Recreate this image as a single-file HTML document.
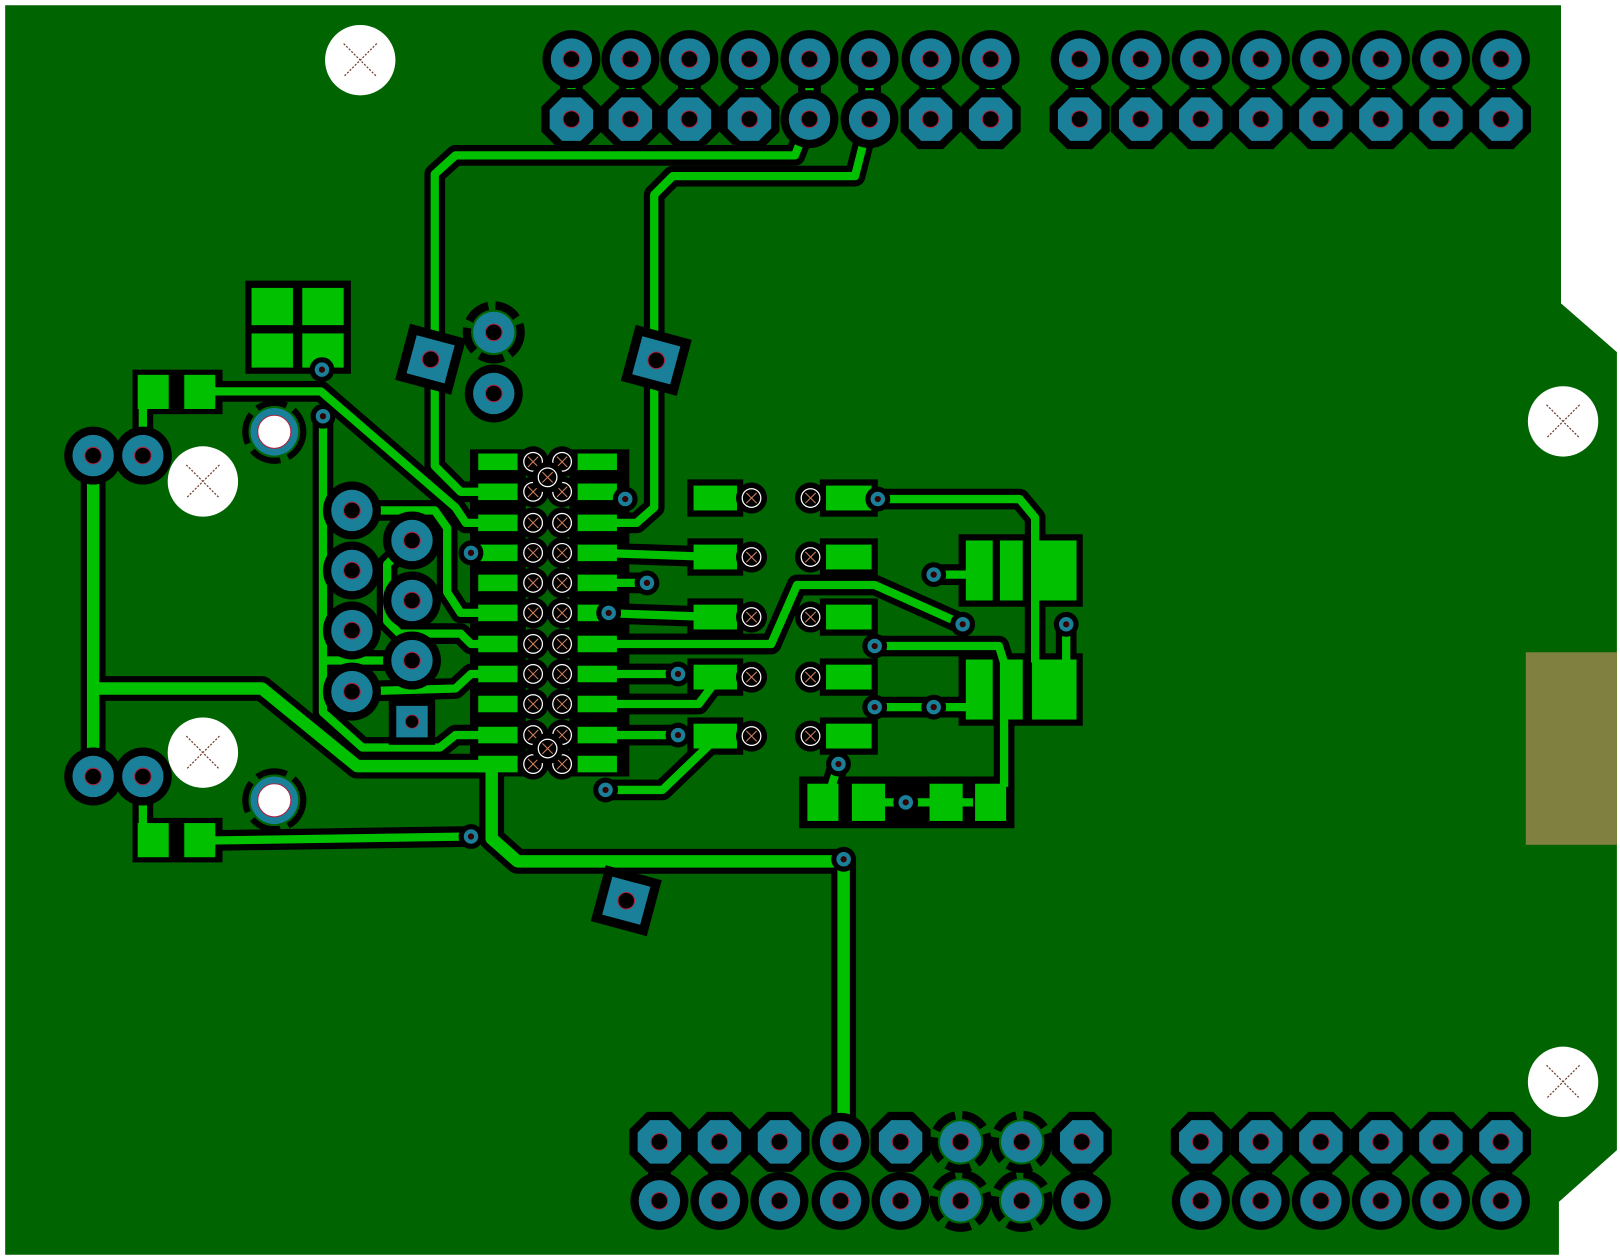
<!DOCTYPE html>
<html><head><meta charset="utf-8"><style>html,body{margin:0;padding:0;background:#fff}svg{display:block}</style></head><body>
<svg width="1620" height="1260" viewBox="0 0 1565 1217" xmlns="http://www.w3.org/2000/svg">
<defs>
<g id="rp"><circle r="28" fill="#000"/><circle r="20" fill="#1a8099"/><circle r="8" fill="#000" stroke="#b02040" stroke-width="1"/></g>
<g id="op"><polygon points="-12,-29 12,-29 29,-12 29,12 12,29 -12,29 -29,12 -29,-12" fill="#000"/><polygon points="-9,-21 9,-21 21,-9 21,9 9,21 -9,21 -21,9 -21,-9" fill="#1a8099"/><circle r="8" fill="#000" stroke="#b02040" stroke-width="1"/></g>
<g id="tp"><circle r="26" fill="none" stroke="#000" stroke-width="8" stroke-dasharray="24 7"/><circle r="20" fill="#1a8099"/><circle r="8" fill="#000" stroke="#b02040" stroke-width="1"/></g>
<g id="via"><circle r="12" fill="#000"/><circle r="7" fill="#1a8099"/><circle r="3" fill="#300"/></g>
<g id="cv"><circle r="15" fill="#000"/><circle r="9" fill="none" stroke="#fff" stroke-width="1.2"/><path d="M-5,-5L5,5M5,-5L-5,5" stroke="#d08060" stroke-width="1"/></g>
<g id="sq"><rect x="-28" y="-28" width="56" height="56" fill="#000"/><rect x="-19" y="-19" width="38" height="38" fill="#1a8099"/><circle r="8" fill="#000" stroke="#b02040" stroke-width="1"/></g>
<g id="mh"><circle r="34" fill="#fff"/><path d="M-16,-16L16,16M16,-16L-16,16" stroke="#704030" stroke-width="1.2" stroke-dasharray="2 1.5"/></g>
<g id="T" fill="none" stroke-linejoin="round">
<path d="M782,115 L768,150 L440,150 L420,168 L420,450 L445,475 L480,475"/>
<path d="M840,115 L826,170 L650,170 L632,188 L632,490 L615,505 L580,505"/>
<path d="M195,378 L310,378 L440,490 L450,505 L480,505"/>
<path d="M145,378 L138,380 L138,440"/>
<path d="M312,402 L312,688 L350,722 L425,722 L440,710 L480,710"/>
<path d="M195,812 L455,808"/>
<path d="M138,750 L138,812 L145,812"/>
<path d="M340,493 L420,493 L432,510 L432,572 L445,592 L480,592"/>
<path d="M398,522 L374,545 L374,600 L386,612 L445,612 L455,622 L480,622"/>
<path d="M312,638 L398,638"/>
<path d="M340,668 L440,665 L455,651 L480,651"/>
<path d="M455,534 L480,534"/>
<path d="M580,534 L690,538"/>
<path d="M580,563 L625,563"/>
<path d="M580,592 L690,596"/>
<path d="M580,622 L745,622 L770,565 L845,565 L930,603"/>
<path d="M580,651 L655,651"/>
<path d="M580,680 L675,680 L690,660"/>
<path d="M580,710 L655,710"/>
<path d="M585,763 L640,763 L690,715"/>
<path d="M848,482 L985,482 L1000,500 L1000,640"/>
<path d="M845,624 L965,624 L970,640 L970,760"/>
<path d="M845,683 L940,683"/>
<path d="M902,555 L945,555"/>
<path d="M1030,603 L1030,640"/>
<path d="M810,738 L800,770"/>
<path d="M840,775 L940,775"/>
</g>
<g id="T2" fill="none" stroke-linejoin="round">
<path d="M475,738 L475,810 L500,832 L815,832 L815,1103"/>
<path d="M90,440 L90,750"/>
<path d="M90,665 L253,665 L345,740 L480,740"/>
</g>
</defs>
<polygon points="5,5 1508,5 1508,293 1562,340 1562,1111 1506,1161 1506,1212 5,1212" fill="#006400"/>
<rect x="1474" y="630" width="88" height="186" fill="#808040"/>
<use href="#T" stroke="#000" stroke-width="20"/>
<use href="#T2" stroke="#000" stroke-width="24"/>
<g stroke="#000" stroke-width="22">
<path d="M552,57V115M609,57V115M666,57V115M724,57V115M782,57V115M840,57V115M899,57V115M957,57V115M1043,57V115M1102,57V115M1160,57V115M1218,57V115M1276,57V115M1334,57V115M1392,57V115M1450,57V115"/>
<path d="M637,1103V1160M695,1103V1160M1045,1103V1160M1160,1103V1160M1218,1103V1160M1276,1103V1160M1334,1103V1160M1392,1103V1160M1450,1103V1160"/>
</g>
<g stroke="#00c000" stroke-width="8">
<path d="M552,57V115M609,57V115M666,57V115M724,57V115M782,57V115M840,57V115M899,57V115M957,57V115M1043,57V115M1102,57V115M1160,57V115M1218,57V115M1276,57V115M1334,57V115M1392,57V115M1450,57V115"/>
<path d="M637,1103V1160M695,1103V1160M1045,1103V1160M1160,1103V1160M1218,1103V1160M1276,1103V1160M1334,1103V1160M1392,1103V1160M1450,1103V1160"/>
</g>
<g fill="#000">
<rect x="237" y="271" width="102" height="90"/>
<rect x="128" y="357" width="87" height="43"/>
<rect x="128" y="790" width="87" height="43"/>
<rect x="454" y="434" width="54" height="316"/>
<rect x="550" y="434" width="58" height="316"/>
<rect x="664" y="463" width="54" height="36"/><rect x="664" y="520" width="54" height="36"/><rect x="664" y="578" width="54" height="36"/><rect x="664" y="636" width="54" height="36"/><rect x="664" y="693" width="54" height="36"/>
<rect x="792" y="463" width="56" height="36"/><rect x="792" y="520" width="56" height="36"/><rect x="792" y="578" width="56" height="36"/><rect x="792" y="636" width="56" height="36"/><rect x="792" y="693" width="56" height="36"/>
<rect x="926" y="516" width="120" height="70"/>
<rect x="926" y="631" width="120" height="70"/>
<rect x="772" y="750" width="208" height="50"/>
</g>
<use href="#T" stroke="#00c000" stroke-width="8"/>
<use href="#T2" stroke="#00c000" stroke-width="12"/>
<g fill="#00c000">
<rect x="243" y="278" width="40" height="36"/><rect x="292" y="278" width="40" height="36"/>
<rect x="243" y="322" width="40" height="33"/><rect x="292" y="322" width="40" height="33"/>
<rect x="133" y="362" width="30" height="33"/><rect x="178" y="362" width="30" height="33"/>
<rect x="133" y="795" width="30" height="33"/><rect x="178" y="795" width="30" height="33"/>
<g id="lp">
<rect x="462" y="438" width="38" height="16"/><rect x="462" y="467" width="38" height="16"/><rect x="462" y="497" width="38" height="16"/><rect x="462" y="526" width="38" height="16"/><rect x="462" y="555" width="38" height="16"/><rect x="462" y="584" width="38" height="16"/><rect x="462" y="614" width="38" height="16"/><rect x="462" y="643" width="38" height="16"/><rect x="462" y="672" width="38" height="16"/><rect x="462" y="702" width="38" height="16"/><rect x="462" y="730" width="38" height="16"/>
</g>
<use href="#lp" x="96"/>
<rect x="670" y="469" width="42" height="24"/><rect x="670" y="526" width="42" height="24"/><rect x="670" y="584" width="42" height="24"/><rect x="670" y="642" width="42" height="24"/><rect x="670" y="699" width="42" height="24"/>
<rect x="798" y="469" width="44" height="24"/><rect x="798" y="526" width="44" height="24"/><rect x="798" y="584" width="44" height="24"/><rect x="798" y="642" width="44" height="24"/><rect x="798" y="699" width="44" height="24"/>
<rect x="933" y="522" width="26" height="58"/><rect x="966" y="522" width="22" height="58"/><rect x="997" y="522" width="43" height="58"/>
<rect x="933" y="637" width="26" height="58"/><rect x="966" y="637" width="22" height="58"/><rect x="997" y="637" width="43" height="58"/>
<rect x="780" y="757" width="30" height="36"/><rect x="823" y="757" width="32" height="36"/><rect x="898" y="757" width="32" height="36"/><rect x="942" y="757" width="30" height="36"/>
</g>
<g>
<use href="#cv" x="515" y="446"/><use href="#cv" x="543" y="446"/><use href="#cv" x="515" y="475"/><use href="#cv" x="543" y="475"/>
<use href="#cv" x="515" y="505"/><use href="#cv" x="543" y="505"/><use href="#cv" x="515" y="534"/><use href="#cv" x="543" y="534"/>
<use href="#cv" x="515" y="563"/><use href="#cv" x="543" y="563"/><use href="#cv" x="515" y="592"/><use href="#cv" x="543" y="592"/>
<use href="#cv" x="515" y="622"/><use href="#cv" x="543" y="622"/><use href="#cv" x="515" y="651"/><use href="#cv" x="543" y="651"/>
<use href="#cv" x="515" y="680"/><use href="#cv" x="543" y="680"/><use href="#cv" x="515" y="710"/><use href="#cv" x="543" y="710"/>
<use href="#cv" x="515" y="738"/><use href="#cv" x="543" y="738"/>
<use href="#cv" x="529" y="461"/><use href="#cv" x="529" y="723"/>
<use href="#cv" x="726" y="481"/><use href="#cv" x="726" y="538"/><use href="#cv" x="726" y="596"/><use href="#cv" x="726" y="654"/><use href="#cv" x="726" y="711"/>
<use href="#cv" x="783" y="481"/><use href="#cv" x="783" y="538"/><use href="#cv" x="783" y="596"/><use href="#cv" x="783" y="654"/><use href="#cv" x="783" y="711"/>
</g>
<g>
<use href="#via" x="311" y="357"/><use href="#via" x="312" y="402"/><use href="#via" x="455" y="534"/><use href="#via" x="604" y="482"/>
<use href="#via" x="625" y="563"/><use href="#via" x="588" y="592"/><use href="#via" x="655" y="651"/><use href="#via" x="655" y="710"/>
<use href="#via" x="585" y="763"/><use href="#via" x="455" y="808"/><use href="#via" x="815" y="830"/><use href="#via" x="848" y="482"/>
<use href="#via" x="902" y="555"/><use href="#via" x="930" y="603"/><use href="#via" x="1030" y="603"/><use href="#via" x="845" y="624"/>
<use href="#via" x="845" y="683"/><use href="#via" x="902" y="683"/><use href="#via" x="810" y="738"/><use href="#via" x="875" y="775"/>
</g>
<g>
<use href="#rp" x="90" y="440"/><use href="#rp" x="138" y="440"/><use href="#rp" x="90" y="750"/><use href="#rp" x="138" y="750"/>
<use href="#rp" x="340" y="493"/><use href="#rp" x="398" y="522"/><use href="#rp" x="340" y="551"/><use href="#rp" x="398" y="580"/>
<use href="#rp" x="340" y="609"/><use href="#rp" x="398" y="638"/><use href="#rp" x="340" y="668"/>
<use href="#sq" transform="translate(398,697) scale(0.8)"/>
<use href="#rp" x="477" y="380"/><use href="#tp" x="477" y="321"/>
<g transform="translate(416,347) rotate(15)"><use href="#sq"/></g>
<g transform="translate(634,348) rotate(15)"><use href="#sq"/></g>
<g transform="translate(605,870) rotate(15)"><use href="#sq"/></g>
<g transform="translate(265,417)"><circle r="28" fill="none" stroke="#000" stroke-width="6" stroke-dasharray="30 8"/><circle r="23" fill="#1a8099"/><circle r="16" fill="#fff" stroke="#b02040" stroke-width="1"/></g>
<g transform="translate(265,773)"><circle r="28" fill="none" stroke="#000" stroke-width="6" stroke-dasharray="30 8"/><circle r="23" fill="#1a8099"/><circle r="16" fill="#fff" stroke="#b02040" stroke-width="1"/></g>
</g>
<g>
<use href="#rp" x="552" y="57"/><use href="#rp" x="609" y="57"/><use href="#rp" x="666" y="57"/><use href="#rp" x="724" y="57"/><use href="#rp" x="782" y="57"/><use href="#rp" x="840" y="57"/><use href="#rp" x="899" y="57"/><use href="#rp" x="957" y="57"/>
<use href="#rp" x="1043" y="57"/><use href="#rp" x="1102" y="57"/><use href="#rp" x="1160" y="57"/><use href="#rp" x="1218" y="57"/><use href="#rp" x="1276" y="57"/><use href="#rp" x="1334" y="57"/><use href="#rp" x="1392" y="57"/><use href="#rp" x="1450" y="57"/>
<use href="#op" x="552" y="115"/><use href="#op" x="609" y="115"/><use href="#op" x="666" y="115"/><use href="#op" x="724" y="115"/><use href="#rp" x="782" y="115"/><use href="#rp" x="840" y="115"/><use href="#op" x="899" y="115"/><use href="#op" x="957" y="115"/>
<use href="#op" x="1043" y="115"/><use href="#op" x="1102" y="115"/><use href="#op" x="1160" y="115"/><use href="#op" x="1218" y="115"/><use href="#op" x="1276" y="115"/><use href="#op" x="1334" y="115"/><use href="#op" x="1392" y="115"/><use href="#op" x="1450" y="115"/>
</g>
<g>
<use href="#op" x="637" y="1103"/><use href="#op" x="695" y="1103"/><use href="#op" x="753" y="1103"/><use href="#rp" x="812" y="1103"/><use href="#op" x="870" y="1103"/><use href="#tp" x="928" y="1103"/><use href="#tp" x="987" y="1103"/><use href="#op" x="1045" y="1103"/>
<use href="#rp" x="637" y="1160"/><use href="#rp" x="695" y="1160"/><use href="#rp" x="753" y="1160"/><use href="#rp" x="812" y="1160"/><use href="#rp" x="870" y="1160"/><use href="#tp" x="928" y="1160"/><use href="#tp" x="987" y="1160"/><use href="#rp" x="1045" y="1160"/>
<use href="#op" x="1160" y="1103"/><use href="#op" x="1218" y="1103"/><use href="#op" x="1276" y="1103"/><use href="#op" x="1334" y="1103"/><use href="#op" x="1392" y="1103"/><use href="#op" x="1450" y="1103"/>
<use href="#rp" x="1160" y="1160"/><use href="#rp" x="1218" y="1160"/><use href="#rp" x="1276" y="1160"/><use href="#rp" x="1334" y="1160"/><use href="#rp" x="1392" y="1160"/><use href="#rp" x="1450" y="1160"/>
</g>
<use href="#mh" x="348" y="58"/><use href="#mh" x="196" y="465"/><use href="#mh" x="196" y="727"/><use href="#mh" x="1510" y="407"/><use href="#mh" x="1510" y="1045"/>
</svg>
</body></html>
